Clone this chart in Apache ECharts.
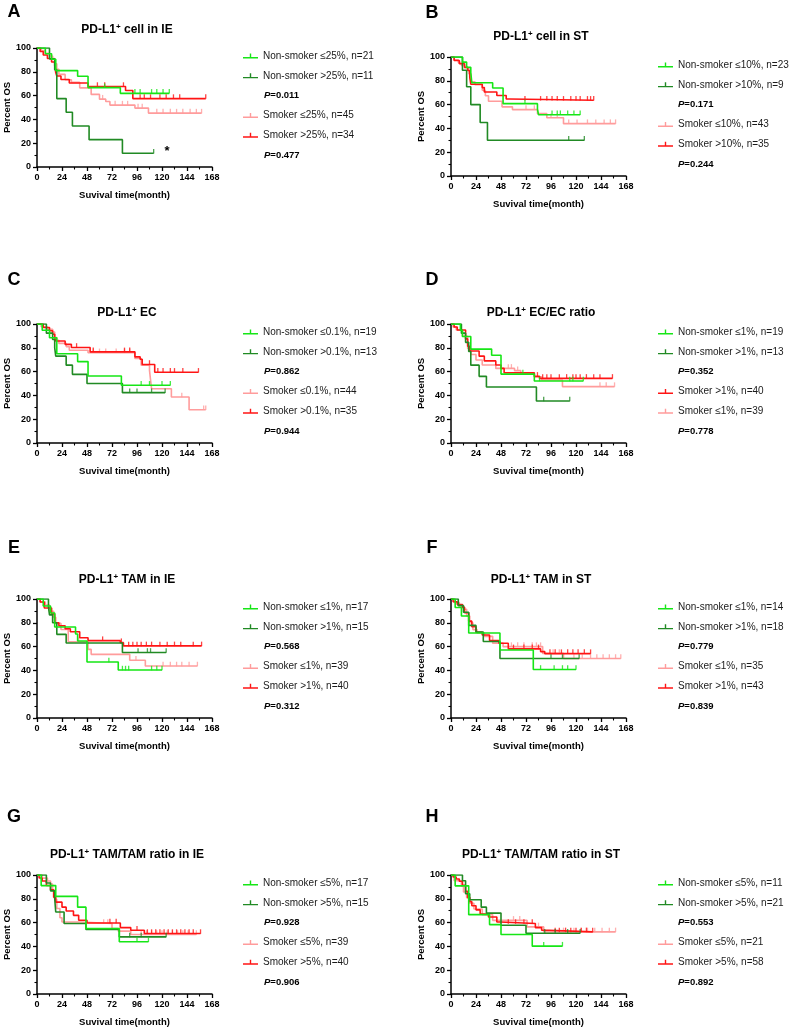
<!DOCTYPE html>
<html><head><meta charset="utf-8">
<script src="https://cdn.jsdelivr.net/npm/echarts@6/dist/echarts.min.js"></script>
<style>html,body{margin:0;padding:0;background:#fff}#c{width:796px;height:1030px}</style>
</head><body><div id="c"></div>
<script>
// ---------- axis ticks ----------
const xTickMax = 168, xTickStep = 24;
const yTickMax = 100, yTickStep = 20;

// ---------- panel texts ----------
const panelLetters = ['A','B','C','D','E','F','G','H'];
const panelTitles = [' cell in IE',' cell in ST',' EC',' EC/EC ratio',' TAM in IE',' TAM in ST',' TAM/TAM ratio in IE',' TAM/TAM ratio in ST'];
const A_labels = ['Non-smoker ≤25%, n=21','Non-smoker >25%, n=11','Smoker ≤25%, n=45','Smoker >25%, n=34'];
const B_labels = ['Non-smoker ≤10%, n=23','Non-smoker >10%, n=9','Smoker ≤10%, n=43','Smoker >10%, n=35'];
const C_labels = ['Non-smoker ≤0.1%, n=19','Non-smoker >0.1%, n=13','Smoker ≤0.1%, n=44','Smoker >0.1%, n=35'];
const D_labels = ['Non-smoker ≤1%, n=19','Non-smoker >1%, n=13','Smoker >1%, n=40','Smoker ≤1%, n=39'];
const E_labels = ['Non-smoker ≤1%, n=17','Non-smoker >1%, n=15','Smoker ≤1%, n=39','Smoker >1%, n=40'];
const F_labels = ['Non-smoker ≤1%, n=14','Non-smoker >1%, n=18','Smoker ≤1%, n=35','Smoker >1%, n=43'];
const G_labels = ['Non-smoker ≤5%, n=17','Non-smoker >5%, n=15','Smoker ≤5%, n=39','Smoker >5%, n=40'];
const H_labels = ['Non-smoker ≤5%, n=11','Non-smoker >5%, n=21','Smoker ≤5%, n=21','Smoker >5%, n=58'];
const pValues = [['0.011','0.477'],['0.171','0.244'],['0.862','0.944'],['0.352','0.778'],['0.568','0.312'],['0.779','0.839'],['0.928','0.906'],['0.553','0.892']];

// ---------- survival steps [month, percent] and censor months ----------
const A_nsLow = [[8,95.2],[14,90.5],[18,81.0],[39,76.2],[49,66.7],[80,61.9]];
const A_nsLowCens = [65,94,99,110,115,121,127];
const A_nsHigh = [[12,90.9],[17,81.8],[19,57.5],[28,46],[34,34.5],[50,23],[82,11.5]];
const A_nsHighCens = [112];
const A_smLow = [[4,97.8],[8,95.6],[12,93.3],[15,91.1],[17,86.7],[19,82.2],[21,77.8],[27,73.3],[33,71.1],[41,66.5],[52,61],[60,57],[66,55],[70,52],[94,49.5],[107,45.3]];
const A_smLowCens = [63,75,82,87,97,101,115,121,128,134,140,147,153,158];
const A_smHigh = [[3,97.1],[6,94.1],[10,91.2],[14,88.2],[17,85.3],[18,79.4],[19,76.5],[23,73.5],[31,70.6],[49,67.6],[85,64.3],[92,57.5]];
const A_smHighCens = [58,65,83,99,103,109,118,124,131,137,162];

const B_nsLow = [[11,95.7],[15,91.3],[19,87],[20,78.3],[40,73.9],[50,60.8],[83,56.1],[84,51.5]];
const B_nsLowCens = [71,97,102,105,112,118,124];
const B_nsHigh = [[11,88.9],[15,75],[19,60],[28,45],[35,30]];
const B_nsHighCens = [113,128];
const B_smLow = [[3,97.7],[7,95.3],[10,93],[13,90.7],[17,86],[19,79.1],[23,76.7],[30,72.1],[33,67.4],[36,62.8],[49,58.1],[59,55.8],[83,52.4],[92,49],[108,44]];
const B_smLowCens = [72,80,96,102,113,121,131,139,147,153,158];
const B_smHigh = [[3,97.1],[8,94.3],[13,91.4],[16,88.6],[18,82.9],[19,77.1],[30,74.3],[32,70.6],[44,67.7],[53,64.7],[56,63.6]];
const B_smHighCens = [71,86,92,97,102,108,115,120,124,131,134,137];

const C_nsLow = [[5,94.7],[12,88.4],[19,75],[39,68.4],[49,56.3],[81,48.5]];
const C_nsLowCens = [100,108,120,128];
const C_nsHigh = [[9,92.3],[15,87],[17,80],[18,73],[28,65.4],[34,57.7],[48,50],[82,42.3]];
const C_nsHighCens = [89,96,110,123];
const C_smLow = [[4,97.7],[10,95.5],[15,93.2],[17,88.6],[19,86.4],[21,83.7],[28,81],[31,78],[49,75.8],[94,71],[100,65.4],[108,61],[109,53],[110,45.6],[129,38.6],[146,28]];
const C_smLowCens = [54,60,66,76,84,89,139,160,162];
const C_smHigh = [[6,97.1],[12,94.3],[15,91.4],[17,88.6],[18,85.7],[27,82.9],[33,80.3],[51,76.6],[94,72.4],[99,70.4],[101,66],[113,59.4]];
const C_smHighCens = [38,54,84,89,108,116,121,128,132,140,155];

const D_nsLow = [[9,94.7],[11,89.5],[19,78.9],[39,73.7],[48,57.9],[80,52.1]];
const D_nsLowCens = [69,85,114,117,127];
const D_nsHigh = [[10,92.3],[14,84.6],[17,76.9],[19,65.4],[27,56],[34,47.1],[82,35.3]];
const D_nsHighCens = [89,114];
const D_smHigh = [[3,97.5],[6,95],[14,87.5],[16,81.3],[18,77.3],[27,73],[32,69],[43,65.5],[48,62.7],[51,59],[80,56],[85,54.3]];
const D_smHighCens = [83,88,92,96,104,111,117,120,124,130,137,143,155];
const D_smLow = [[2,97.4],[5,94.9],[11,89.7],[16,79.5],[19,74.4],[24,69.7],[30,65.5],[43,62.7],[61,60.8],[67,58.2],[80,55.7],[87,53],[107,47.4]];
const D_smLowCens = [55,58,64,143,149,157];

const E_nsLow = [[6,94.1],[13,88.2],[17,76.5],[37,70.6],[39,64.7],[48,47.1],[78,40.3]];
const E_nsLowCens = [69,82,85,88,110,115,120];
const E_nsHigh = [[11,93.3],[12,86.7],[15,80],[19,70.3],[28,63],[82,55.1]];
const E_nsHighCens = [97,106,109,124];
const E_smLow = [[3,97.4],[8,94.9],[12,89.7],[16,84.6],[18,79.5],[23,74.4],[30,64.1],[49,57.7],[52,53.5],[89,48.5],[104,43.7]];
const E_smLowCens = [40,95,121,128,134,139,146,154];
const E_smHigh = [[3,97.5],[7,92.5],[14,87.5],[17,80],[21,77.5],[27,75],[32,72.5],[41,67.5],[49,65],[80,63.3],[83,60.6]];
const E_smHighCens = [63,81,88,92,96,100,105,110,118,125,132,138,150,158];

const F_nsLow = [[4,92.9],[10,85.7],[17,71.4],[47,57.1],[79,40.8]];
const F_nsLowCens = [86,99,107,112,120];
const F_nsHigh = [[7,94.4],[12,88.9],[17,77.8],[24,72.2],[31,64.3],[47,50]];
const F_nsHighCens = [96,107,123];
const F_smLow = [[3,97.1],[8,94.3],[12,91.4],[15,85.7],[18,80],[21,74.3],[25,71.4],[32,68.6],[40,62.9],[50,60],[88,54.3],[108,50]];
const F_smLowCens = [58,64,70,78,82,86,98,104,118,126,134,140,146,152,158,163];
const F_smHigh = [[2,97.7],[6,95.3],[11,93],[13,88.4],[17,81.4],[20,76.7],[24,72.1],[30,69.8],[37,65.1],[46,62.8],[55,58.1],[86,55.8],[90,54.1]];
const F_smHighCens = [60,70,78,84,95,100,106,112,117,122,128,134];

const G_nsLow = [[4,91.1],[18,82],[39,73],[47,55],[79,43.9]];
const G_nsLowCens = [96,107];
const G_nsHigh = [[9,93.3],[13,86.7],[17,80],[18,68.9],[26,59.2],[47,54.2],[79,48]];
const G_nsHighCens = [89,100,124];
const G_smLow = [[5,97.4],[10,94.9],[13,92.3],[15,87.2],[17,79.5],[19,71.8],[22,64.1],[24,60.5],[42,59.2],[72,55],[78,52.8],[90,50]];
const G_smLowCens = [64,68,100,105,110,115,120,125,130,135,140,145,153];
const G_smHigh = [[2,97.5],[5,95],[9,91.2],[13,87.5],[16,81.4],[18,77.2],[24,73],[28,69.7],[35,66.1],[40,62],[48,59.7],[80,55.8],[90,53.6],[103,50.8]];
const G_smHighCens = [70,76,96,106,110,114,118,122,126,130,134,138,142,146,150,157];

const H_nsLow = [[4,90.9],[17,66.7],[37,58.3],[48,50],[78,40.2]];
const H_nsLowCens = [89,107];
const H_nsHigh = [[11,95.2],[14,84.2],[18,79.2],[29,73],[34,68],[48,57.8],[72,51]];
const H_nsHighCens = [90,100,112,124];
const H_smLow = [[3,95.2],[10,90.5],[12,85.7],[15,81],[18,76.2],[22,71.4],[30,66.7],[40,61.9],[73,56.4],[89,52.2]];
const H_smLowCens = [60,66,84,108,118,125,131,138,145,152,158];
const H_smHigh = [[2,98.3],[5,96.6],[8,94.8],[11,91.4],[14,86.2],[16,81],[18,77.6],[20,74.1],[24,70.7],[28,67.2],[36,64.7],[44,60.5],[47,59.2],[81,55.8],[87,53.6],[94,52.2]];
const H_smHighCens = [55,62,70,78,100,104,110,115,120,125,130,136];

// ---------- assembly ----------
const COLORS = {lime:'#16e616', dk:'#218a24', pink:'#ff9c9c', red:'#ff1414'};
const panels = [
  {labels:A_labels, curves:[[A_nsLow,A_nsLowCens,'lime'],[A_nsHigh,A_nsHighCens,'dk'],[A_smLow,A_smLowCens,'pink'],[A_smHigh,A_smHighCens,'red']]},
  {labels:B_labels, curves:[[B_nsLow,B_nsLowCens,'lime'],[B_nsHigh,B_nsHighCens,'dk'],[B_smLow,B_smLowCens,'pink'],[B_smHigh,B_smHighCens,'red']]},
  {labels:C_labels, curves:[[C_nsLow,C_nsLowCens,'lime'],[C_nsHigh,C_nsHighCens,'dk'],[C_smLow,C_smLowCens,'pink'],[C_smHigh,C_smHighCens,'red']]},
  {labels:D_labels, curves:[[D_nsLow,D_nsLowCens,'lime'],[D_nsHigh,D_nsHighCens,'dk'],[D_smHigh,D_smHighCens,'red'],[D_smLow,D_smLowCens,'pink']]},
  {labels:E_labels, curves:[[E_nsLow,E_nsLowCens,'lime'],[E_nsHigh,E_nsHighCens,'dk'],[E_smLow,E_smLowCens,'pink'],[E_smHigh,E_smHighCens,'red']]},
  {labels:F_labels, curves:[[F_nsLow,F_nsLowCens,'lime'],[F_nsHigh,F_nsHighCens,'dk'],[F_smLow,F_smLowCens,'pink'],[F_smHigh,F_smHighCens,'red']]},
  {labels:G_labels, curves:[[G_nsLow,G_nsLowCens,'lime'],[G_nsHigh,G_nsHighCens,'dk'],[G_smLow,G_smLowCens,'pink'],[G_smHigh,G_smHighCens,'red']]},
  {labels:H_labels, curves:[[H_nsLow,H_nsLowCens,'lime'],[H_nsHigh,H_nsHighCens,'dk'],[H_smLow,H_smLowCens,'pink'],[H_smHigh,H_smHighCens,'red']]}
];

const FONT = "'Liberation Sans', Arial, Helvetica, sans-serif";
const gridLeft = [37, 451];
const gridTop = [[48,57],[324,324],[599,599],[875,875]];
const letterPos = [[12,13],[280,280],[548,548],[817,817]];
const titleY = [[30,37],[313,313],[580,580],[855,855]];
const GW = 175, GH = 119;
const ICON = 'path://M0,3.6H15V5H0Z M6.8,0H8.2V3.6H6.8Z';
const zOrder = {pink:2, red:3, dk:4, lime:5};

function stepData(ev, cens){
  const pts = [[0,100]].concat(ev);
  const last = pts[pts.length-1];
  const end = Math.max(last[0], ...cens);
  if (end > last[0]) pts.push([end, last[1]]);
  return pts;
}
function levelAt(ev, t){
  let s = 100;
  ev.forEach(p => { if (p[0] <= t) s = p[1]; });
  return s;
}

const grid=[], xAxis=[], yAxis=[], series=[], legend=[], graphic=[];
const axisCommon = {
  axisLine:{show:true, onZero:false, lineStyle:{color:'#000', width:1.5}},
  axisTick:{show:true, length:4, lineStyle:{color:'#000', width:1.3}},
  minorTick:{show:true, splitNumber:2, length:2.5, lineStyle:{color:'#000', width:1.1}},
  splitLine:{show:false}, minorSplitLine:{show:false},
  nameLocation:'middle',
  nameTextStyle:{fontFamily:FONT, fontWeight:'bold', fontSize:9.5, color:'#000'}
};

panels.forEach((p, i) => {
  const col = i % 2, row = Math.floor(i / 2);
  const left = gridLeft[col], top = gridTop[row][col];
  grid.push({left:left, top:top, width:GW, height:GH, containLabel:false});
  xAxis.push(Object.assign({}, axisCommon, {
    gridIndex:i, type:'value', min:0, max:xTickMax, interval:xTickStep,
    name:'Suvival time(month)', nameGap:23,
    axisLabel:{fontFamily:FONT, fontWeight:'bold', fontSize:9, color:'#000', margin:6}
  }));
  yAxis.push(Object.assign({}, axisCommon, {
    gridIndex:i, type:'value', min:0, max:yTickMax, interval:yTickStep,
    name:'Percent OS', nameGap:22,
    axisLabel:{fontFamily:FONT, fontWeight:'bold', fontSize:9, color:'#000', margin:6}
  }));
  p.curves.forEach((c, k) => {
    const ev = c[0], cens = c[1], color = COLORS[c[2]];
    series.push({
      type:'line', name:p.labels[k], xAxisIndex:i, yAxisIndex:i, step:'end',
      data:stepData(ev, cens), showSymbol:false, symbol:'none', silent:true,
      lineStyle:{color:color, width:1.6}, itemStyle:{color:color}, z:zOrder[c[2]]
    });
    series.push({
      type:'scatter', xAxisIndex:i, yAxisIndex:i, silent:true,
      data:cens.map(t => [t, levelAt(ev, t)]),
      symbol:'rect', symbolSize:[1.3,4.5], symbolOffset:[0,-2],
      itemStyle:{color:color}, z:zOrder[c[2]]
    });
  });
  const lx = col ? 658 : 243;
  const mk = (idxs) => idxs.map(k => ({name:p.labels[k], itemStyle:{color:COLORS[p.curves[k][2]], borderWidth:0}}));
  const legBase = {orient:'vertical', left:lx, itemWidth:15, itemHeight:5, itemGap:7.8, padding:0,
    icon:ICON, selectedMode:false,
    textStyle:{fontFamily:FONT, fontSize:10, color:'#1a1a1a', lineHeight:12}};
  legend.push(Object.assign({}, legBase, {top:top+2, data:mk([0,1])}));
  legend.push(Object.assign({}, legBase, {top:top+61.4, data:mk([2,3])}));

  const px = col ? 678 : 264;
  pValues[i].forEach((v, j) => {
    graphic.push({type:'text', x:px, y:top + (j ? 107 : 47.6), silent:true,
      style:{text:'{i|P}{b|=' + v + '}', align:'left', verticalAlign:'middle',
        rich:{i:{fontFamily:FONT, fontWeight:'bold', fontStyle:'italic', fontSize:9.5, fill:'#000'},
              b:{fontFamily:FONT, fontWeight:'bold', fontSize:9.5, fill:'#000'}}}});
  });
  graphic.push({type:'text', x:col ? 432 : 14, y:letterPos[row][col], silent:true,
    style:{text:panelLetters[i], fontFamily:FONT, fontWeight:'bold', fontSize:18, fill:'#000', align:'center', verticalAlign:'middle'}});
  graphic.push({type:'text', x:col ? 541 : 127, y:titleY[row][col], silent:true,
    style:{text:'{b|PD-L1}{s|+}{b|' + panelTitles[i] + '}', align:'center', verticalAlign:'middle',
      rich:{b:{fontFamily:FONT, fontWeight:'bold', fontSize:12, lineHeight:15, fill:'#000'},
            s:{fontFamily:FONT, fontWeight:'bold', fontSize:8, lineHeight:9, verticalAlign:'top', fill:'#000'}}}});
});
// significance mark in panel A
graphic.push({type:'text', x:167, y:151, silent:true,
  style:{text:'*', fontFamily:FONT, fontWeight:'bold', fontSize:13, fill:'#000', align:'center', verticalAlign:'middle'}});

const chart = echarts.init(document.getElementById('c'), null, {renderer:'canvas'});
chart.setOption({animation:false, backgroundColor:'#fff', grid, xAxis, yAxis, series, legend, graphic});
</script></body></html>
